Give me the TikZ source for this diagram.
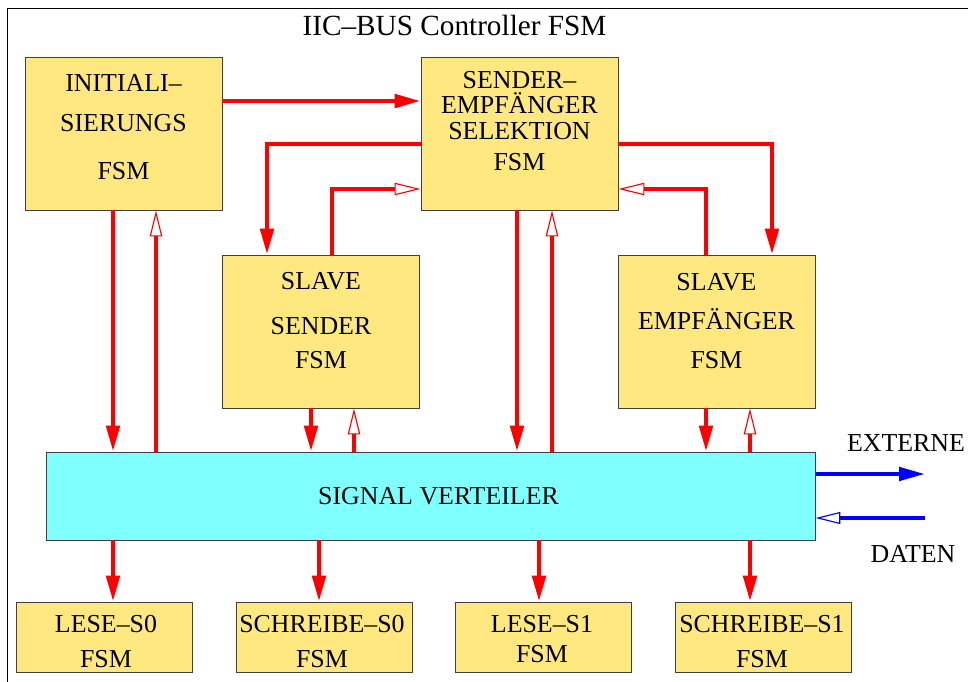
\documentclass[tikz,border=0pt]{standalone}
\usepackage{fontspec}
\setmainfont{Liberation Serif}
\usepackage{tikz}
\usetikzlibrary{arrows.meta}
\definecolor{fsmgelb}{RGB}{255,232,128}
\definecolor{vertcyan}{RGB}{128,255,255}

\begin{document}
\begin{tikzpicture}[x=0.025cm,y=-0.025cm,
  fsm/.style={draw=black!75,line width=0.6pt,fill=fsmgelb,inner sep=0pt},
  big/.style={fsm,minimum width=4.925cm,minimum height=3.825cm},
  small/.style={fsm,minimum width=4.4cm,minimum height=1.75cm},
  txt/.style={align=center,font=\fontsize{18.4}{18}\selectfont,inner sep=0pt},
  sig/.style={red,line width=3.2pt,-{Triangle[length=0.65cm,width=0.33cm]}},
  back/.style={red,line width=3.2pt,-{Triangle[open,length=0.65cm,width=0.31cm,line width=0.8pt]}},
  bus/.style={blue,line width=3pt,-{Triangle[length=0.65cm,width=0.33cm]}},
  busin/.style={blue,line width=3pt,-{Triangle[open,length=0.62cm,width=0.3cm,line width=0.8pt]}}]
\useasboundingbox (0,0) rectangle (968,682);
\draw[line width=0.7pt] (7.5,682) -- (7.5,8) -- (968,8);
\node[txt,font=\fontsize{20.8}{24}\selectfont] (titel) at (454.5,25) {IIC--BUS Controller FSM};

\node[big] (init) at (123.5,133.5) {};
\node[txt] (initT) at (123.5,127.5) {INITIALI--\\[10pt]SIERUNGS\\[16.5pt]FSM};
\node[big] (ses) at (519.5,133.5) {};
\node[txt] (sesT) at (519.5,121) {SENDER--\\EMPFÄNGER\\SELEKTION\\[4pt]FSM};
\node[big] (ss) at (321,331.5) {};
\node[txt] (ssT) at (321,320.5) {SLAVE\\[14pt]SENDER\\[6pt]FSM};
\node[big] (se) at (716.5,331.5) {};
\node[txt] (seT) at (716.5,321) {SLAVE\\[9.6pt]EMPFÄNGER\\[9.6pt]FSM};

\node[fsm,fill=vertcyan,minimum width=19.2cm,minimum height=2.2cm] (sv) at (431,496) {};
\node[txt] (svT) at (438.5,496) {SIGNAL VERTEILER};

\node[small] (ls0) at (104,637) {};
\node[txt] (ls0T) at (106,641.5) {LESE--S0\\[7pt]FSM};
\node[small] (ws0) at (324,637) {};
\node[txt] (ws0T) at (322,641.5) {SCHREIBE--S0\\[7pt]FSM};
\node[small] (ls1) at (543.5,637) {};
\node[txt] (ls1T) at (542,639) {LESE--S1\\[3pt]FSM};
\node[small] (ws1) at (763,637) {};
\node[txt] (ws1T) at (762,641.5) {SCHREIBE--S1\\[7pt]FSM};

\node[txt] (extT) at (906,443.5) {EXTERNE};
\node[txt] (datT) at (913,553.5) {DATEN};

\draw[sig] (init.east |- 0,101) -- (ses.west |- 0,101);
\draw[sig] (ses.west |- 0,144) -| (ss.north -| 267,0);
\draw[back] (ss.north -| 332,0) |- (ses.west |- 0,189);
\draw[sig] (ses.east |- 0,144) -| (se.north -| 772,0);
\draw[back] (se.north -| 706,0) |- (ses.east |- 0,189);

\foreach \b/\d/\u in {init/113/156, ss/311/354, ses/517/552, se/706/750}{
  \draw[sig] (\b.south -| \d,0) -- (sv.north -| \d,0);
  \draw[back] (sv.north -| \u,0) -- (\b.south -| \u,0);
}
\foreach \b/\x in {ls0/113, ws0/319, ls1/539, ws1/750}
  \draw[sig] (sv.south -| \x,0) -- (\b.north -| \x,0);

\coordinate (ext) at (925,474);
\coordinate (dat) at (925,518);
\draw[bus] (sv.east |- ext) -- (ext);
\draw[busin] (dat) -- (sv.east |- dat);
\end{tikzpicture}
\end{document}
